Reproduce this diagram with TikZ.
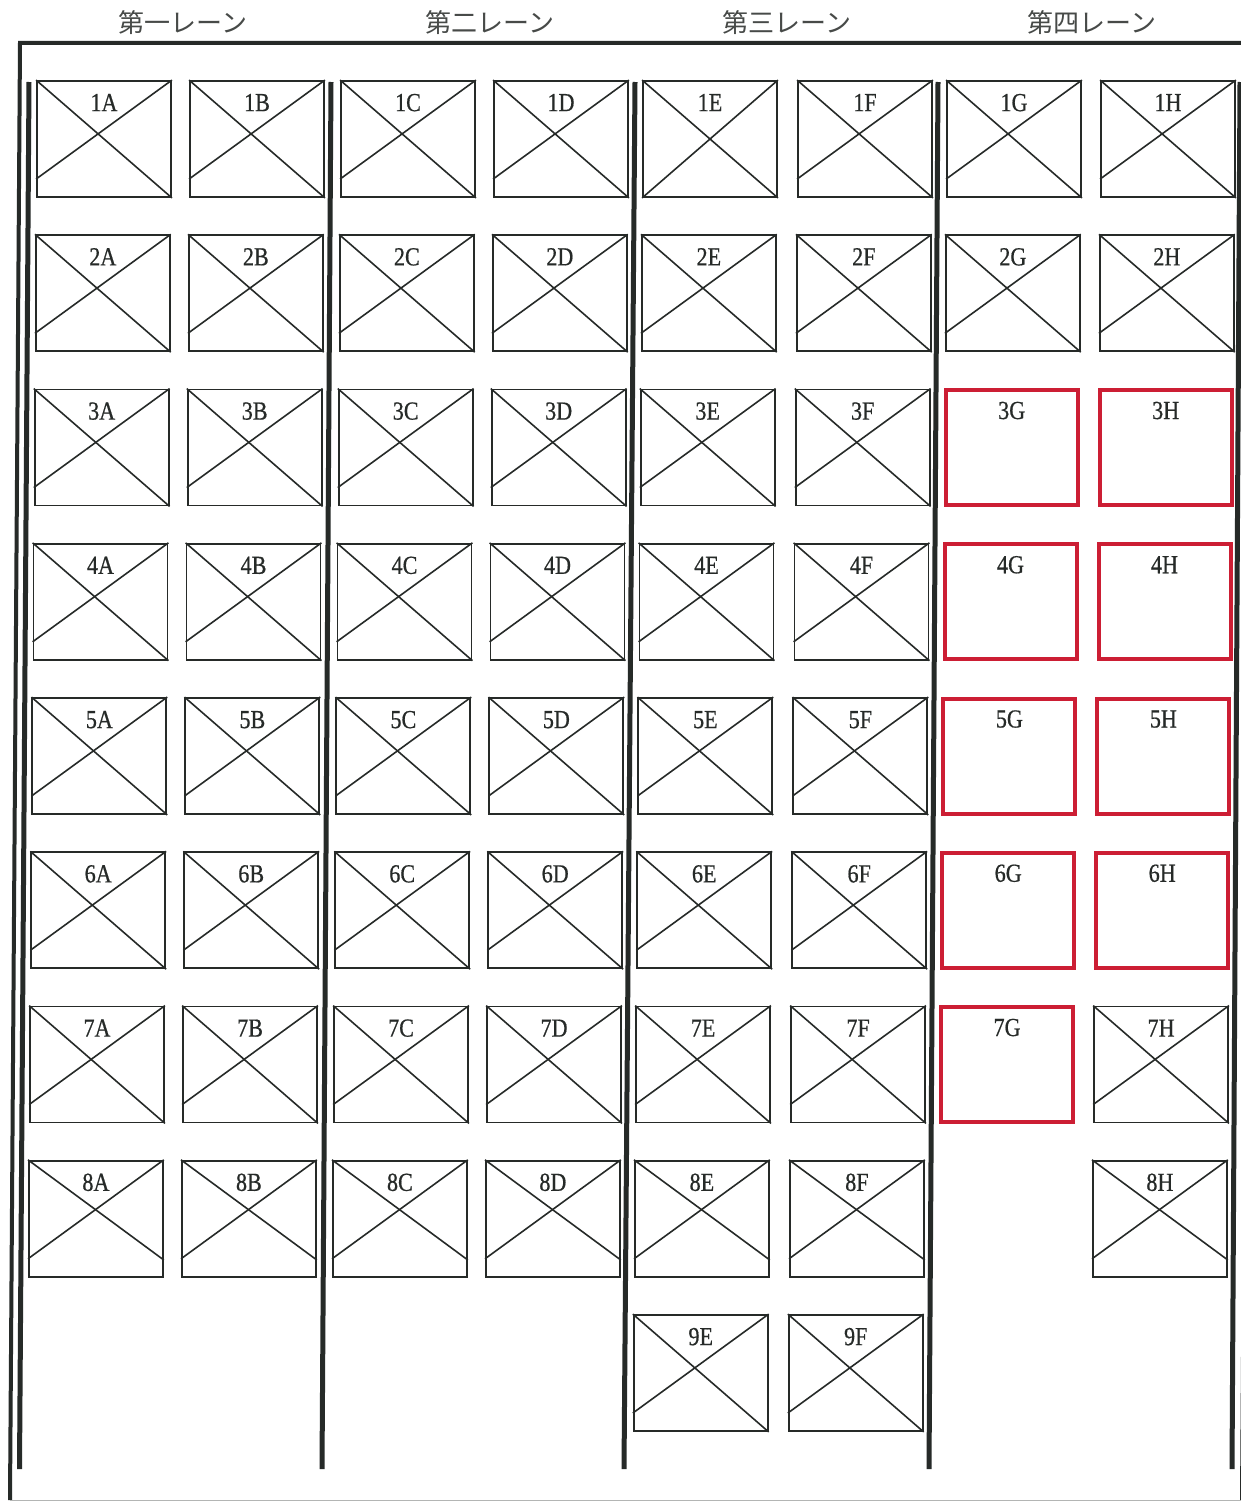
\documentclass[tikz,border=0pt]{standalone}
\usepackage{fontspec}
\usetikzlibrary{calc}
\newfontfamily\jpfont{Noto Sans CJK JP}
\newfontfamily\labfont[FakeStretch=0.85,FakeBold=0.6]{Liberation Serif}
\definecolor{ink}{RGB}{38,42,40}
\definecolor{redline}{RGB}{204,30,52}
\tikzset{
  boxshape/.style={rectangle, draw=ink, line width=1.8pt, minimum width=134pt, minimum height=116pt, inner sep=0pt},
  redbox/.style={boxshape, draw=redline, line width=4pt, minimum width=132pt, minimum height=115pt},
  lab/.style={font=\labfont\fontsize{26}{26}\selectfont, text=ink, anchor=base, inner sep=0pt},
  crossline/.style={draw=ink, line width=1.6pt},
  hdr/.style={font=\jpfont\fontsize{26}{28}\selectfont, text=ink!85, inner sep=0pt},
  divider/.style={draw=ink, line width=5pt},
  outerframe/.style={draw=ink, line width=4pt}
}
% #1 column letter, #2 left x at row 1, #3 row, #4 type (x, c, s, r)
\newcommand\mkbox[4]{%
  \pgfmathsetmacro\by{81+154.25*(#3-1)+58}%
  \pgfmathsetmacro\bx{#2-0.0075*(\by-139)+67}%
  \if r#4
    \node[redbox] (b#3#1) at (\bx,\by) {};
  \else
    \node[boxshape] (b#3#1) at (\bx,\by) {};
    \if c#4
      \draw[crossline] (b#3#1.north west) -- (b#3#1.south east);
      \draw[crossline] (b#3#1.north east) -- (b#3#1.south west);
    \fi
    \if x#4
      \draw[crossline] (b#3#1.north west) -- (b#3#1.south east);
      \draw[crossline] (b#3#1.north east) -- ($(b#3#1.north west)!0.84!(b#3#1.south west)$);
    \fi
    \if s#4
      \draw[crossline] (b#3#1.north west) -- ($(b#3#1.north east)!0.85!(b#3#1.south east)$);
      \draw[crossline] (b#3#1.north east) -- ($(b#3#1.north west)!0.84!(b#3#1.south west)$);
    \fi
  \fi
  \node[lab] (t#3#1) at ($(b#3#1.north)+(0,31)$) {#3#1};%
}
\begin{document}
\begin{tikzpicture}[x=1pt,y=-1pt]
\path[use as bounding box] (0,0) rectangle (1241,1504);
\fill[white] (0,0) rectangle (1241,1504);

% lane headers
\node[hdr] (h1) at (183,23) {第一レーン};
\node[hdr] (h2) at (490,23) {第二レーン};
\node[hdr] (h3) at (787,23) {第三レーン};
\node[hdr] (h4) at (1092,23) {第四レーン};

% outer frame
\draw[outerframe] (1252,43) -- (20,43) -- (10,1500);
\draw[outerframe] (1252,43) -- (1242,1500);
\draw[ink!35, line width=1pt] (10,1500) -- (1242,1500);

% lane dividers
\draw[divider] (29,82) -- (19.5,1469);
\draw[divider] (331,82) -- (322,1469);
\draw[divider] (635,82) -- (624,1469);
\draw[divider] (938,82) -- (929,1469);
\draw[divider] (1240,82) -- (1232,1469);

% lanes 1 and 2
\foreach \r in {1,...,7} {
  \mkbox{A}{37}{\r}{x}
  \mkbox{B}{190}{\r}{x}
  \mkbox{C}{341}{\r}{x}
  \mkbox{D}{494}{\r}{x}
}
\mkbox{A}{37}{8}{s}
\mkbox{B}{190}{8}{s}
\mkbox{C}{341}{8}{s}
\mkbox{D}{494}{8}{s}

% lane 3
\foreach \r in {2,...,7,9} {
  \mkbox{E}{643}{\r}{x}
  \mkbox{F}{798}{\r}{x}
}
\mkbox{E}{643}{1}{c}
\mkbox{F}{798}{1}{x}
\mkbox{E}{643}{8}{s}
\mkbox{F}{798}{8}{s}

% lane 4
\mkbox{G}{947}{1}{x}
\mkbox{H}{1101}{1}{x}
\mkbox{G}{947}{2}{x}
\mkbox{H}{1101}{2}{x}
\foreach \r in {3,...,6} {
  \mkbox{G}{947}{\r}{r}
  \mkbox{H}{1101}{\r}{r}
}
\mkbox{G}{947}{7}{r}
\mkbox{H}{1101}{7}{x}
\mkbox{H}{1101}{8}{s}
\end{tikzpicture}
\end{document}
